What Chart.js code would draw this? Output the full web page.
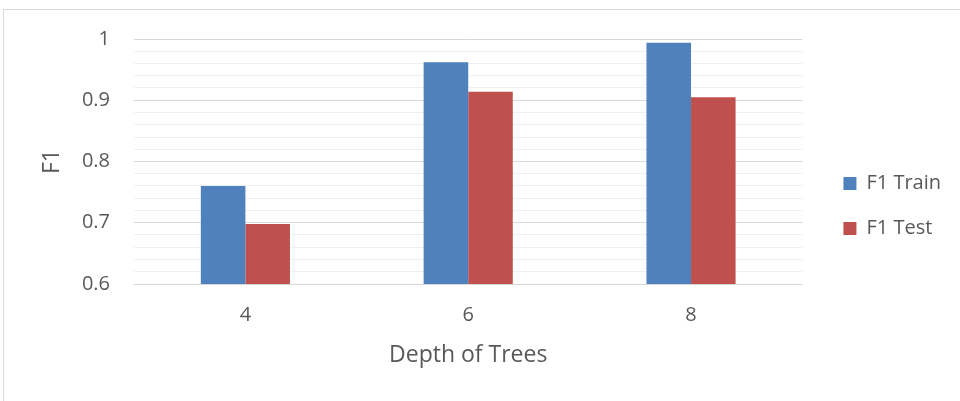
<!DOCTYPE html>
<html>
<head>
<meta charset="utf-8">
<script src="https://cdn.jsdelivr.net/npm/chart.js@4.4.1/dist/chart.umd.min.js"></script>
<style>
  html, body { margin: 0; padding: 0; background: #fff; }
  #wrap { position: relative; width: 960px; height: 401px; overflow: hidden; }
  #frame { position: absolute; left: 3px; top: 9px; width: 1000px; height: 500px;
           border: 1px solid #d9d9d9; box-sizing: border-box; }
  #c { position: absolute; left: 0; top: 0; }
</style>
</head>
<body>
<div id="wrap">
  <div id="frame"></div>
  <canvas id="c" width="960" height="401"></canvas>
</div>
<script>
// Tree depth categories and F1 scores
const depths = ['4', '6', '8'];
const f1Train = [0.760, 0.962, 0.994];
const f1Test = [0.698, 0.914, 0.905];
const seriesNames = ['F1 Train', 'F1 Test'];
const yMin = 0.6, yMax = 1.0, yStep = 0.02;

const FONT = '"Open Sans", Lato, sans-serif';
const TEXT = '#595959';

const isMajor = v => Math.abs(v * 10 - Math.round(v * 10)) < 1e-6;

// Push the legend a little further from the plot without resizing the plot
const legendGap = {
  id: 'legendGap',
  afterLayout(chart) {
    const lg = chart.legend;
    if (lg) { lg.left += 16; lg.right += 16; }
  }
};

new Chart(document.getElementById('c'), {
  type: 'bar',
  data: {
    labels: depths,
    datasets: [
      { label: seriesNames[0], data: f1Train, backgroundColor: '#4f81bd' },
      { label: seriesNames[1], data: f1Test, backgroundColor: '#c0504d' }
    ]
  },
  plugins: [legendGap],
  options: {
    responsive: false,
    animation: false,
    devicePixelRatio: 1,
    layout: { padding: { left: 30, top: 39, right: 25, bottom: 28 } },
    datasets: { bar: { categoryPercentage: 0.4, barPercentage: 1.0 } },
    plugins: {
      tooltip: { enabled: false },
      legend: {
        position: 'right',
        labels: {
          color: TEXT,
          font: { family: FONT, size: 20 },
          boxWidth: 13,
          boxHeight: 13,
          padding: 25
        }
      }
    },
    scales: {
      x: {
        grid: { display: false },
        border: { display: false },
        ticks: { color: TEXT, font: { family: FONT, size: 20 }, padding: 11 },
        title: {
          display: true, text: 'Depth of Trees', color: TEXT,
          font: { family: FONT, size: 23 }, padding: { top: 10, bottom: 4 }
        },
        afterFit: s => { s.height = 89; }
      },
      y: {
        min: yMin, max: yMax,
        grid: {
          drawTicks: false,
          color: ctx => (ctx.tick && isMajor(ctx.tick.value)) ? '#d9d9d9' : '#f0f0f0',
          lineWidth: 1
        },
        border: { display: false },
        ticks: {
          stepSize: yStep,
          autoSkip: false,
          color: TEXT,
          font: { family: FONT, size: 20 },
          padding: 24,
          callback: v => isMajor(v) ? String(Math.round(v * 10) / 10) : ''
        },
        title: {
          display: true, text: 'F1', color: TEXT,
          font: { family: FONT, size: 23 }, padding: { top: 9, bottom: 0 }
        },
        afterFit: s => { s.width = 104; }
      }
    }
  }
});
</script>
</body>
</html>
